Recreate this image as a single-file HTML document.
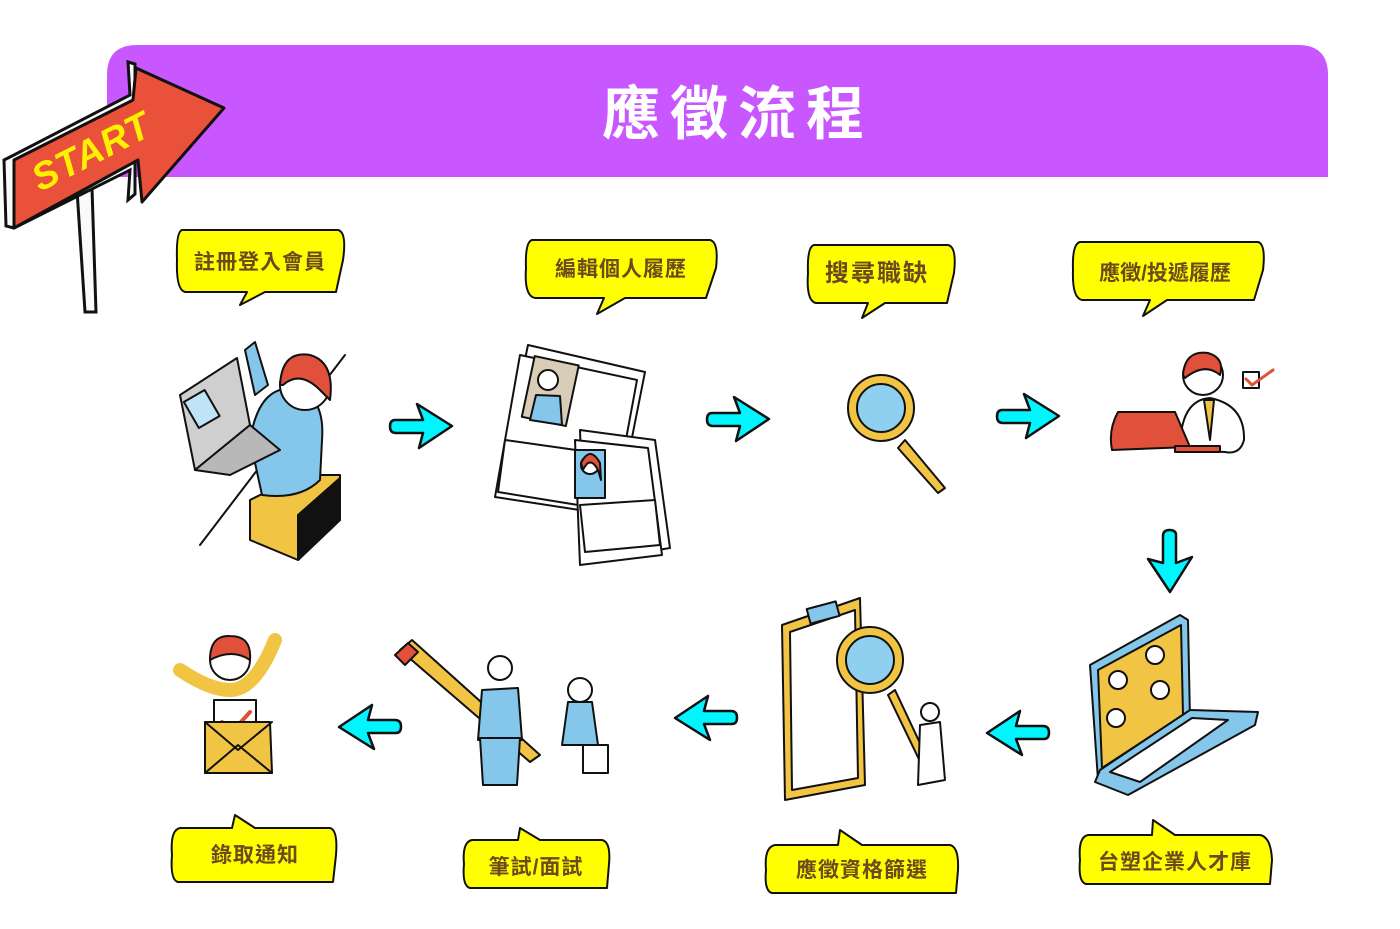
<!DOCTYPE html>
<html><head><meta charset="utf-8"><style>
html,body{margin:0;padding:0;background:#fff;}
svg{display:block;}
text{font-family:"Liberation Sans","Noto Sans CJK TC",sans-serif;font-weight:bold;}
</style></head><body>
<svg width="1400" height="929" viewBox="0 0 1400 929" xmlns="http://www.w3.org/2000/svg">
<defs>
<g id="arr"><path d="M5,17 H33 L27,1 L62,23 L29,45 L33,30 H6 Q0,30 0,23.5 Q0,17 5,17 Z" fill="#00f5ff" stroke="#111" stroke-width="2.5" stroke-linejoin="round"/></g>
</defs>
<path d="M137,45 H1298 Q1328,45 1328,75 V177 H107 V75 Q107,45 137,45 Z" fill="#c957ff"/>
<text x="738" y="134" font-size="58" fill="#fff" text-anchor="middle" letter-spacing="10">應徵流程</text>

<path d="M77,190 L85,312 L96,312 L92,188 Z" fill="#fafafa" stroke="#111" stroke-width="3"/>
<path d="M4,160 L12,156 L130,95 L128,62 L135,64 L135,194 L128,200 L130,170 L14,228 L6,226 Z" fill="#fafafa" stroke="#111" stroke-width="3"/>
<path d="M14,160 L133,100 L136,68 L224,108 L142,202 L138,160 L14,228 Z" fill="#e9513b" stroke="#111" stroke-width="3" stroke-linejoin="round"/>
<text x="40" y="192" font-size="38" fill="#ffef00" font-style="italic" transform="rotate(-27 40 192)" letter-spacing="1">START</text>

<g stroke="#111" stroke-width="2" fill="#ffff00" stroke-linejoin="round">
<path d="M182,230 H338 Q347,232 343,260 L336,292 H265 L240,305 L247,292 H185 Q176,290 177,260 Q176,232 182,230 Z"/>
<path d="M532,240 H710 Q719,242 716,268 L706,298 H625 L597,314 L604,298 H535 Q524,296 526,268 Q525,242 532,240 Z"/>
<path d="M814,245 H948 Q957,247 954,273 L947,303 H885 L862,318 L868,303 H816 Q806,301 808,273 Q807,247 814,245 Z"/>
<path d="M1080,242 H1258 Q1266,244 1263,270 L1254,300 H1167 L1143,316 L1150,300 H1082 Q1072,298 1073,270 Q1072,244 1080,242 Z"/>
<path d="M180,828 H232 L235,815 L255,828 H330 Q338,830 336,855 L333,882 H178 Q170,880 172,855 Q170,830 180,828 Z"/>
<path d="M472,840 H518 L520,828 L540,840 H602 Q611,842 609,864 L607,888 H470 Q462,886 464,864 Q462,842 472,840 Z"/>
<path d="M775,845 H838 L840,830 L862,845 H950 Q959,847 958,870 L956,893 H772 Q764,891 766,870 Q764,847 775,845 Z"/>
<path d="M1088,835 H1152 L1153,820 L1175,835 H1260 Q1271,837 1272,860 L1270,884 H1086 Q1078,882 1080,860 Q1078,837 1088,835 Z"/>
</g>
<g fill="#6b4a1e" font-size="21">
<text x="260" y="269" text-anchor="middle" letter-spacing="1">註冊登入會員</text>
<text x="621" y="276" text-anchor="middle" letter-spacing="1">編輯個人履歷</text>
<text x="877" y="281" text-anchor="middle" font-size="24" letter-spacing="2">搜尋職缺</text>
<text x="1165" y="280" text-anchor="middle" letter-spacing="0">應徵/投遞履歷</text>
<text x="255" y="862" text-anchor="middle" letter-spacing="1">錄取通知</text>
<text x="536" y="874" text-anchor="middle" letter-spacing="1">筆試/面試</text>
<text x="862" y="877" text-anchor="middle" letter-spacing="1">應徵資格篩選</text>
<text x="1175" y="869" text-anchor="middle" letter-spacing="1">台塑企業人才庫</text>
</g>

<use href="#arr" x="390" y="403"/>
<use href="#arr" x="707" y="396"/>
<use href="#arr" x="997" y="393"/>
<use href="#arr" transform="translate(1193,530) rotate(90)"/>
<use href="#arr" transform="translate(1049,756) rotate(180)"/>
<use href="#arr" transform="translate(737,741) rotate(180)"/>
<use href="#arr" transform="translate(401,750) rotate(180)"/>

<g stroke="#111" stroke-width="2" stroke-linejoin="round" stroke-linecap="round">
<line x1="200" y1="545" x2="345" y2="355" fill="none"/>
<path d="M250,500 L300,475 L340,475 L340,520 L298,560 L250,540 Z" fill="#f2c443"/>
<path d="M298,515 L340,478 L340,520 L298,560 Z" fill="#111"/>
<path d="M250,440 Q260,380 300,390 Q325,400 322,440 L320,480 Q300,500 262,495 Z" fill="#85c7ea"/>
<path d="M255,395 L245,350 L255,342 L268,385 Z" fill="#85c7ea"/>
<circle cx="305" cy="385" r="25" fill="#fff"/>
<path d="M280,385 Q282,350 310,355 Q335,362 330,400 L320,390 Q300,370 283,385 Z" fill="#e0503a"/>
<path d="M180,395 L237,358 L250,425 L195,470 Z" fill="#cfcfcf"/>
<path d="M195,470 L250,425 L280,450 L230,475 Z" fill="#b8b8b8"/>
<rect x="190" y="395" width="24" height="30" fill="#bfe3f7" transform="rotate(-30 200 410)"/>
<path d="M528,345 L645,372 L618,508 L498,490 Z" fill="#fff"/>
<path d="M520,355 L637,380 L612,515 L495,497 Z" fill="#fff"/>
<rect x="528" y="360" width="45" height="62" fill="#d9cdb7" transform="rotate(12 550 390)"/>
<path d="M530,420 L536,395 L560,396 L562,425 Z" fill="#85c7ea"/>
<circle cx="548" cy="380" r="10" fill="#fff"/>
<path d="M505,440 L590,452 L578,505 L498,492 Z" fill="#fff"/>
<path d="M580,430 L655,440 L670,548 L585,562 Z" fill="#fff"/>
<path d="M575,440 L648,448 L662,555 L580,565 Z" fill="#fff"/>
<rect x="575" y="450" width="30" height="48" fill="#85c7ea"/>
<circle cx="590" cy="465" r="9" fill="#fff"/>
<path d="M581,463 Q590,445 600,463 L601,480 L598,470 Q590,455 583,470 Z" fill="#e0503a"/>
<path d="M580,505 L655,500 L660,545 L585,552 Z" fill="#fff"/>
<path d="M905,440 L945,488 L938,493 L898,448 Z" fill="#f2c443"/>
<circle cx="881" cy="408" r="33" fill="#f2c443"/>
<circle cx="881" cy="408" r="24" fill="#8fd0f0"/>
<circle cx="1203" cy="375" r="20" fill="#fff"/>
<path d="M1183,375 Q1185,350 1208,353 Q1225,358 1220,375 Q1205,362 1185,378 Z" fill="#e0503a"/>
<path d="M1180,450 Q1180,400 1210,398 Q1245,405 1244,440 Q1240,455 1225,452 Z" fill="#fff"/>
<path d="M1204,400 L1210,440 L1214,400 Z" fill="#f2c443"/>
<path d="M1118,412 L1175,412 L1190,447 L1112,450 Q1108,430 1118,412 Z" fill="#e0503a"/>
<path d="M1175,446 L1220,446 L1220,452 L1175,452 Z" fill="#e0503a"/>
<rect x="1243" y="372" width="16" height="16" fill="#fff"/>
<path d="M1246,379 L1252,385 L1273,370" fill="none" stroke="#e0503a" stroke-width="3"/>
<path d="M1090,665 L1180,615 L1188,620 L1190,720 L1098,780 Z" fill="#85c7ea"/>
<path d="M1098,670 L1181,625 L1183,715 L1102,768 Z" fill="#f2c443"/>
<path d="M1100,770 L1190,710 L1258,712 L1255,725 L1128,795 L1095,782 Z" fill="#85c7ea"/>
<path d="M1110,772 L1192,718 L1228,720 L1140,782 Z" fill="#fff"/>
<circle cx="1118" cy="680" r="9" fill="#fff"/>
<circle cx="1155" cy="655" r="9" fill="#fff"/>
<circle cx="1160" cy="690" r="9" fill="#fff"/>
<circle cx="1116" cy="718" r="9" fill="#fff"/>
<path d="M782,625 L860,598 L865,785 L785,800 Z" fill="#f2c443"/>
<path d="M790,632 L855,610 L858,778 L792,790 Z" fill="#fff"/>
<rect x="808" y="605" width="30" height="15" fill="#85c7ea" transform="rotate(-15 823 612)"/>
<path d="M895,690 L935,775 L928,778 L888,695 Z" fill="#f2c443"/>
<circle cx="870" cy="660" r="33" fill="#f2c443"/>
<circle cx="870" cy="660" r="24" fill="#8fd0f0"/>
<circle cx="930" cy="712" r="9" fill="#fff"/>
<path d="M920,725 L940,722 L945,780 L918,785 Z" fill="#fff"/>
<path d="M400,650 L412,640 L540,755 L530,762 Z" fill="#f2c443"/>
<path d="M395,655 L408,643 L418,652 L405,665 Z" fill="#e0503a"/>
<circle cx="500" cy="668" r="12" fill="#fff"/>
<path d="M482,690 L518,688 L522,740 L478,740 Z" fill="#85c7ea"/>
<path d="M480,738 L520,738 L517,785 L483,785 Z" fill="#85c7ea"/>
<circle cx="580" cy="690" r="12" fill="#fff"/>
<path d="M568,702 L592,702 L598,745 L562,745 Z" fill="#85c7ea"/>
<path d="M583,745 L608,745 L608,773 L583,773 Z" fill="#fff"/>
<path d="M180,670 Q210,690 230,690 Q255,690 275,640" fill="none" stroke="#f2c443" stroke-width="14"/>
<circle cx="230" cy="660" r="20" fill="#fff"/>
<path d="M210,660 Q210,635 230,636 Q252,636 250,660 Q232,648 210,660 Z" fill="#e0503a"/>
<rect x="214" y="700" width="42" height="45" fill="#fff"/>
<path d="M222,722 L232,732 L250,712" fill="none" stroke="#e0503a" stroke-width="4"/>
<path d="M205,722 L270,722 L272,773 L205,773 Z" fill="#f2c443"/>
<path d="M205,722 L238,750 L272,722" fill="none"/>
<path d="M205,773 L238,745 L272,773" fill="none"/>
</g>
</svg>
</body></html>
